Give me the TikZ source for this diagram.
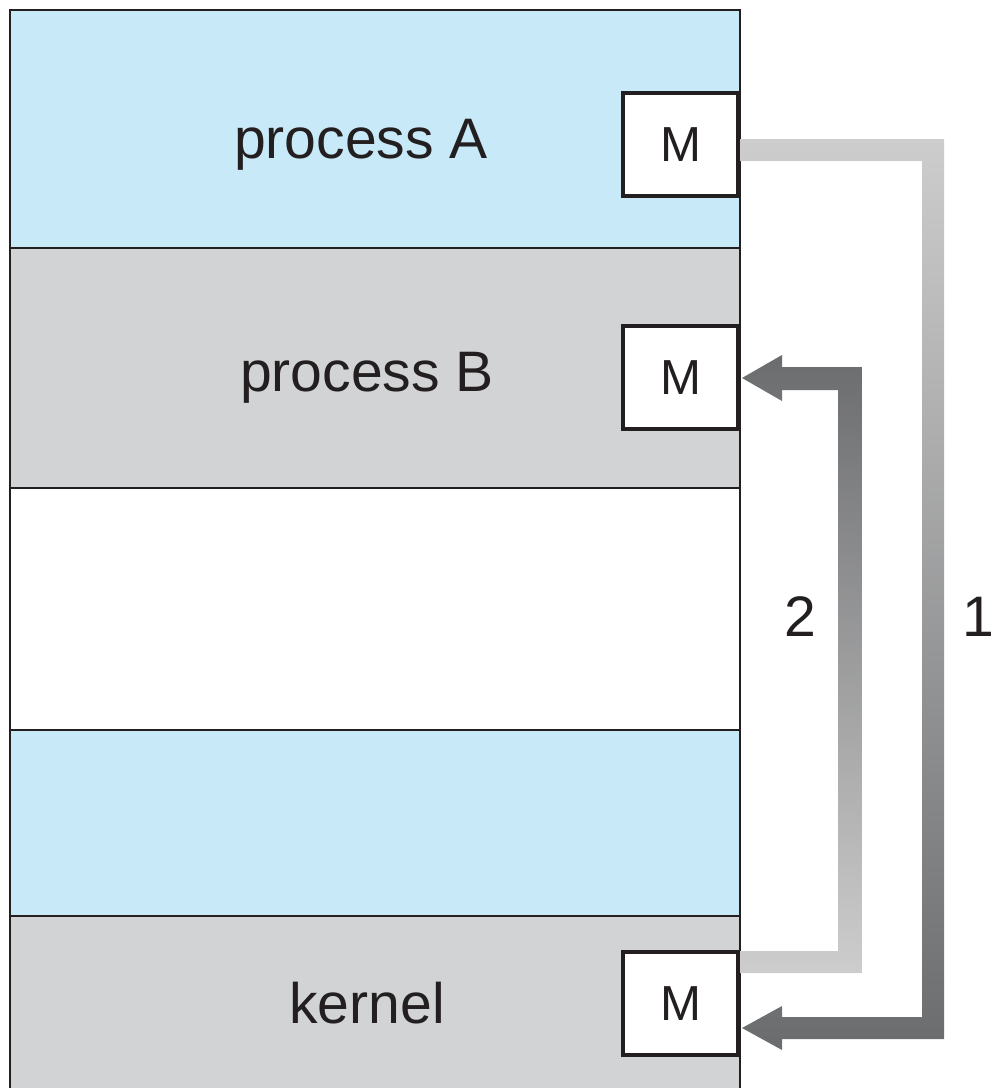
\documentclass[tikz,border=0pt]{standalone}
\usepackage{fontspec}
\setmainfont{Liberation Sans}
\usepackage{xcolor}
\usetikzlibrary{calc}
\definecolor{bandblue}{HTML}{C8E9F8}
\definecolor{bandgray}{HTML}{D1D3D4}
\definecolor{arrlight}{HTML}{CDCDCD}
\definecolor{arrdark}{HTML}{6B6C6E}
\definecolor{inkline}{HTML}{231F20}

\begin{document}
\begin{tikzpicture}[x=0.02cm, y=-0.02cm,
  label/.style={font=\fontsize{32.5}{38}\selectfont, text=inkline},
  mbox/.style={draw=inkline, line width=2.3pt, fill=white, minimum width=2.3cm,
    minimum height=2.06cm, inner sep=0pt, font=\fontsize{28}{33}\selectfont, text=inkline},
  sepline/.style={draw=inkline, line width=1.1pt}]
  \useasboundingbox (0,0) rectangle (992,1088);

  % メモリの領域
  \fill[bandblue] (10,10) rectangle (740,248);
  \fill[bandgray] (10,248) rectangle (740,488);
  \fill[white] (10,488) rectangle (740,730);
  \fill[bandblue] (10,730) rectangle (740,916);
  \fill[bandgray] (10,916) rectangle (740,1095);

  % 境界線
  \draw[sepline] (10,1095) -- (10,10) -- (740,10) -- (740,1095);
  \foreach \yy in {248,488,730,916}
    \draw[sepline] (10,\yy) -- (740,\yy);

  % ラベル
  \node[label] (procA) at (361,145) {process A};
  \node[label] (procB) at (367,378) {process B};
  \node[label] (kern) at (367,1003) {kernel};

  % 共有メモリ M
  \node[mbox, anchor=east] (mA) at (740,144.5) {M};
  \node[mbox, anchor=east] (mB) at (740,377.5) {M};
  \node[mbox, anchor=east] (mK) at (740,1003.5) {M};

  % 矢印 1: A -> kernel
  \shade[top color=arrlight, bottom color=arrdark]
    ($(mA.east)+(0,-5.5)$) -- ++(204,0) -- ++(0,900) -- ++(-162,0) -- ++(0,11)
    -- ($(mK.east)+(2,24.5)$) -- ++(40,-22) -- ++(0,11) -- ++(140,0)
    -- ++(0,-856) -- ++(-182,0) -- cycle;

  % 矢印 2: kernel -> B
  \shade[top color=arrdark, bottom color=arrlight]
    ($(mK.east)+(0,-52.5)$) -- ++(98,0) -- ++(0,-561) -- ++(-56,0) -- ++(0,11)
    -- ($(mB.east)+(2,0.5)$) -- ++(40,-23) -- ++(0,12) -- ++(80,0)
    -- ++(0,606) -- ++(-122,0) -- cycle;

  \node[label] (two) at (800,617) {2};
  \node[label] (one) at (978,617) {1};
\end{tikzpicture}
\end{document}
